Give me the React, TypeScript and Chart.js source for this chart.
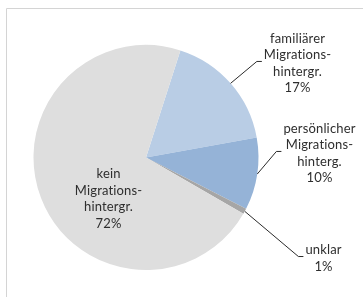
import { useEffect, useRef } from "react";
import { Chart, registerables } from "chart.js";

Chart.register(...registerables);

const categories = [
  "familiärer Migrationshintergr.",
  "persönlicher Migrationshinterg.",
  "unklar",
  "kein Migrationshintergr.",
];
const labelLines = [
  ["familiärer", "Migrations-", "hintergr."],
  ["persönlicher", "Migrations-", "hinterg."],
  ["unklar"],
  ["kein", "Migrations-", "hintergr."],
];
const shares = [17.2, 10.4, 0.8, 71.6];
const colors = ["#b9cde5", "#95b3d7", "#a6a6a6", "#dedede"];

const labelDx = [1.347, 1.542, 1.578, -0.333];
const labelDy = [-0.836, -0.036, 0.898, 0.369];
const hasLeader = [true, true, true, false];

const FONT = "13px Lato, 'Open Sans', sans-serif";
const LINE_H = 16.5;

const labelPlugin = {
  id: "pieLabels",
  afterDatasetsDraw(chart: any) {
    const ctx = chart.ctx;
    const meta = chart.getDatasetMeta(0);
    const data = chart.data.datasets[0].data as number[];
    const total = data.reduce((a: number, b: number) => a + b, 0);
    ctx.save();
    ctx.font = FONT;
    try {
      (ctx as any).letterSpacing = "0.15px";
    } catch (e) {}
    ctx.textAlign = "center";
    ctx.textBaseline = "middle";
    meta.data.forEach((arc: any, i: number) => {
      const p = arc.getProps(["x", "y", "startAngle", "endAngle", "outerRadius"], true);
      const R = p.outerRadius;
      const cx = p.x + labelDx[i] * R;
      const cy = p.y + labelDy[i] * R;
      const lines = [...labelLines[i], Math.round((data[i] / total) * 100) + "%"];
      const maxW = Math.max(...lines.map((l) => ctx.measureText(l).width));
      if (hasLeader[i]) {
        const mid = (p.startAngle + p.endAngle) / 2;
        const ax = p.x + Math.cos(mid) * R;
        const ay = p.y + Math.sin(mid) * R;
        const ex = cx - maxW / 2 - 2;
        const ey = cy - 2;
        const kx = ex - 5;
        ctx.strokeStyle = "#2a2a2a";
        ctx.lineWidth = 1;
        ctx.beginPath();
        ctx.moveTo(ax, ay);
        ctx.lineTo(kx, ey);
        ctx.lineTo(ex, ey);
        ctx.stroke();
      }
      ctx.fillStyle = "#2e2e2e";
      const y0 = cy - ((lines.length - 1) / 2) * LINE_H;
      lines.forEach((l, k) => ctx.fillText(l, cx, y0 + k * LINE_H));
    });
    ctx.restore();
  },
};

const framePlugin = {
  id: "frame",
  beforeDraw(chart: any) {
    const ctx = chart.ctx;
    ctx.save();
    ctx.strokeStyle = "#d4d4d4";
    ctx.lineWidth = 1;
    ctx.beginPath();
    ctx.moveTo(6.5, chart.height);
    ctx.lineTo(6.5, 8.5);
    ctx.lineTo(chart.width, 8.5);
    ctx.stroke();
    ctx.restore();
  },
};

export default function App() {
  const ref = useRef<HTMLCanvasElement | null>(null);
  useEffect(() => {
    if (!ref.current) return;
    const chart = new Chart(ref.current, {
      type: "pie",
      data: {
        labels: categories,
        datasets: [
          {
            data: shares,
            backgroundColor: colors,
            borderWidth: 0,
          },
        ],
      },
      options: {
        animation: false,
        responsive: false,
        rotation: 17.8,
        layout: { padding: { left: 33.5, right: 104.5, top: 45, bottom: 27 } },
        plugins: {
          legend: { display: false },
          tooltip: { enabled: false },
        },
      },
      plugins: [framePlugin, labelPlugin],
    });
    return () => chart.destroy();
  }, []);
  return (
    <div style={{ position: "fixed", left: 0, top: 0, width: 363, height: 297, background: "#fff", overflow: "hidden" }}>
      <canvas ref={ref} width={363} height={297} style={{ display: "block", width: 363, height: 297 }} />
    </div>
  );
}
